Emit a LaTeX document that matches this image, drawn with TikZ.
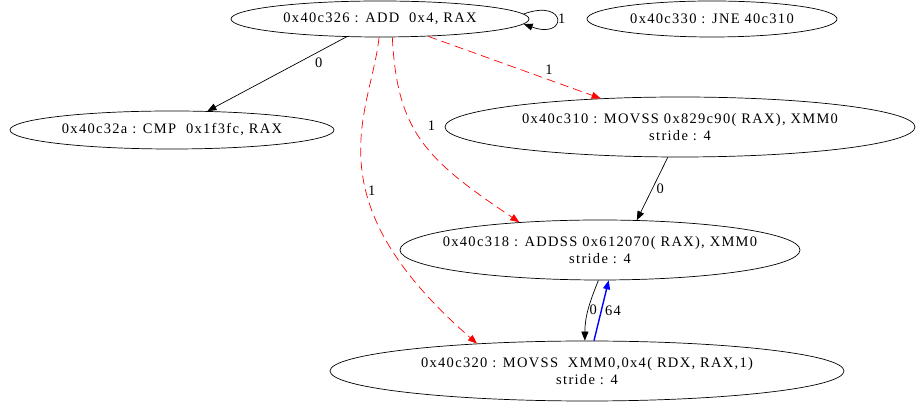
\documentclass[tikz,border=0pt]{standalone}
\usepackage{fontspec}
\setmainfont{Liberation Serif}[LetterSpace=9]
\usetikzlibrary{shapes.geometric,arrows.meta}

\begin{document}
\begin{tikzpicture}[x=1pt, y=1pt,
	insn/.style = {draw, ellipse, inner sep=0pt, align=center, line width=0.7pt, font=\fontsize{14.5}{17}\selectfont},
	lbl/.style = {inner sep=1pt, text=black, font=\fontsize{14.5}{17}\selectfont},
	flow/.style = {-{Triangle[length=9pt, width=7pt]}, line width=0.7pt},
	dep/.style = {flow, red, dash pattern=on 9pt off 5pt},
	carry/.style = {flow, blue, line width=1.4pt}]
	\useasboundingbox (0,0) rectangle (917,403);
	% instructions
	\node [insn, minimum width=298pt, minimum height=36pt] (n326) at (380,384) {0x40c326 : ADD\ \ 0x4, RAX};
	\node [insn, minimum width=250pt, minimum height=36pt] (n330) at (712,384) {0x40c330 : JNE 40c310};
	\node [insn, minimum width=324pt, minimum height=38pt] (n32a) at (172,273) {0x40c32a : CMP\ \ 0x1f3fc, RAX};
	\node [insn, minimum width=470pt, minimum height=60pt, inner xsep=-6pt] (n310) at (680,276) {0x40c310 : MOVSS 0x829c90( RAX), XMM0\\stride : 4};
	\node [insn, minimum width=400pt, minimum height=60pt, inner xsep=-18pt] (n318) at (600,153) {0x40c318 : ADDSS 0x612070( RAX), XMM0\\stride : 4};
	\node [insn, minimum width=514pt, minimum height=60pt] (n320) at (587,32) {0x40c320 : MOVSS\ \ XMM0,0x4( RDX, RAX,1)\\stride : 4};
	% edges
	\draw [flow] (n326.2.5) to [out=20, in=-20, looseness=12] node [lbl, right] (lself) {1} (n326.-2.5);
	\draw [flow] (n326) -- node [lbl, pos=.2, below=5pt] (l32a) {0} (n32a);
	\draw [dep] (n326) -- node [lbl, pos=.7, above=4pt] (l310) {1} (n310);
	\draw [dep] (n326.-56) .. controls (397,270) and (427,243) .. node [lbl, pos=.4, right=14pt] (l318) {1} (n318.161);
	\draw [dep] (n326.-93) .. controls (371,290) and (309,206) .. node [lbl, pos=.59, right] (l320) {1} (n320.166);
	\draw [flow] (n310.-112) -- node [lbl, pos=.5, right=3pt] (l310b) {0} (n318.39);
	\draw [flow] (n318.-93) to [out=-112, in=90] node [lbl, pos=.5, right=0pt] (l318b) {0} (n320.94);
	\draw [carry] (n320.77) -- node [lbl, pos=.5, right=2pt] (l64) {64} (n318.-74);
\end{tikzpicture}
\end{document}
